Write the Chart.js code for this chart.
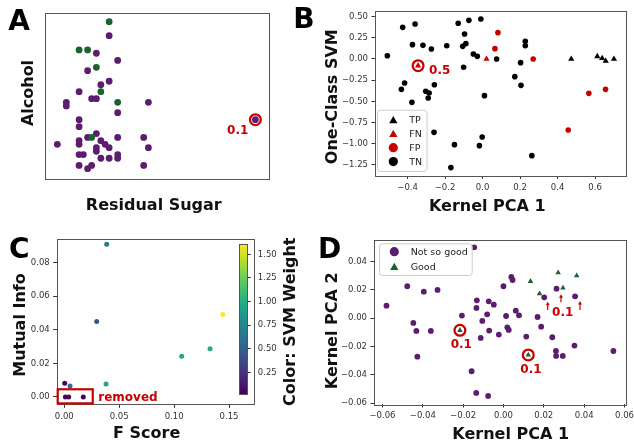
<!DOCTYPE html>
<html>
<head>
<meta charset="utf-8">
<script src="https://cdn.jsdelivr.net/npm/chart.js@4"></script>
<style>
  body { margin: 0; background: #fff; }
  canvas { position: absolute; left: 0; top: 0; }
</style>
</head>
<body>
<canvas id="chartA" width="634" height="446"></canvas>
<canvas id="chartB" width="634" height="446"></canvas>
<canvas id="chartC" width="634" height="446"></canvas>
<canvas id="chartCbar" width="634" height="446"></canvas>
<canvas id="chartD" width="634" height="446"></canvas>
<script>
const W = 634, H = 446;
const FONT = "DejaVu Sans";
const RED = "#c80000";
const PURPLE = "#5c1d6f";
const GREEN = "#1e6130";

// ---- panel A: wine samples (no tick values shown) ----
const sugarGood = [28.6, 15.2, 19.0, 22.9, 24.9, 32.4, 20.8];
const alcoholGood = [94.6, 77.5, 77.5, 67.0, 52.3, 45.9, 24.7];
const sugarPoor = [28.6, 22.9, 32.4, 19.0, 24.9, 28.6, 15.2, 20.8, 22.9, 9.5, 9.5, 46.1, 32.4, 15.2, 15.2, 93.8, 22.9, 19.0, 32.4, 44.0,
  5.5, 15.2, 15.2, 24.9, 26.8, 28.6, 22.9, 22.9, 46.1, 15.2, 17.1, 24.9, 28.6, 32.4, 32.4, 15.2, 20.8, 19.0, 44.0];
const alcoholPoor = [86.1, 75.5, 71.2, 65.0, 56.5, 58.6, 52.3, 48.1, 48.1, 45.9, 43.7, 45.9, 39.6, 35.4, 31.2, 35.4, 27.0, 24.7, 24.7, 24.7,
  20.5, 22.7, 20.5, 22.7, 20.5, 18.5, 18.5, 16.3, 18.5, 14.3, 14.3, 12.1, 12.1, 14.3, 12.1, 7.8, 7.8, 5.8, 7.8];
const flaggedA = [15];          // index into the poor arrays
const flaggedALabel = "0.1";

// ---- panel B: kernel PCA vs one-class SVM score ----
const tnX = [-0.508, -0.426, -0.360, -0.374, -0.318, -0.273, -0.191, -0.130, -0.073, -0.009, -0.096, -0.089, -0.106, -0.049, -0.028, -0.101, 0.075, 0.228,
  0.228, 0.203, 0.172, 0.205, 0.010, -0.416, -0.433, -0.303, -0.285, -0.290, -0.257, -0.377, -0.259, -0.002, -0.150, -0.017, -0.169, 0.263];
const tnY = [0.039, 0.373, 0.413, 0.169, 0.161, 0.118, 0.157, 0.421, 0.456, 0.472, 0.295, 0.181, 0.149, 0.059, 0.031, -0.098, 0.0, 0.208,
  0.157, -0.043, -0.208, -0.311, -0.432, -0.283, -0.358, -0.381, -0.401, -0.460, -0.303, -0.511, -0.865, -0.920, -1.010, -1.022, -1.281, -1.140];
const fpX = [0.082, 0.066, 0.270, 0.567, 0.656, 0.457];
const fpY = [0.311, 0.122, 0.0, -0.405, -0.358, -0.837];
const tpX = [0.473, 0.612, 0.638, 0.657, 0.701];
const tpY = [0.0, 0.031, 0.008, -0.024, 0.0];
const fnX = [0.021, -0.344];
const fnY = [0.0, -0.079];
const flaggedB = [1];           // index into the FN arrays
const flaggedBLabel = "0.5";
const legendB = ["TP", "FN", "FP", "TN"];
const xTicksB = [-0.4, -0.2, 0.0, 0.2, 0.4, 0.6];
const yTicksB = [0.5, 0.25, 0.0, -0.25, -0.5, -0.75, -1.0, -1.25];

// ---- panel C: feature scores ----
const fScore = [0.0386, 0.0295, 0.1443, 0.1327, 0.1069, 0.0380, 0.0004, 0.0052, 0.0010, 0.0040, 0.0173];
const mutualInfo = [0.0909, 0.0449, 0.0492, 0.0288, 0.0242, 0.0077, 0.0082, 0.0066, 0.0, 0.0, 0.0];
const svmWeight = [0.66, 0.43, 1.60, 0.98, 0.95, 0.93, 0.05, 0.60, 0.04, 0.04, 0.04];
const removedLabel = "removed";
const xTicksC = [0.0, 0.05, 0.10, 0.15];
const yTicksC = [0.0, 0.02, 0.04, 0.06, 0.08];
const cbarTicks = [0.25, 0.5, 0.75, 1.0, 1.25, 1.5];

// ---- panel D: kernel PCA projection ----
const poorX = [-0.058, -0.0477, -0.0395, -0.0327, -0.0447, -0.0432, -0.036, -0.0427, -0.0206, -0.0145, -0.0132, -0.0134, -0.0073, -0.0048,
  -0.0081, -0.0105, -0.0071, -0.0113, -0.0023, 0.0, 0.0039, 0.0045, 0.0013, 0.0019, 0.0026, 0.0061, 0.0077, -0.0158, -0.0135, -0.0076,
  0.0113, 0.0169, 0.0187, 0.0202, 0.0242, 0.0263, 0.026, 0.0261, 0.0294, 0.0355, 0.0352, 0.0545];
const poorY = [0.0089, 0.0226, 0.0188, 0.020, -0.0033, -0.0089, -0.0089, -0.0271, 0.0019, 0.0501, 0.0127, 0.0073, 0.012, 0.0096,
  0.0028, -0.0019, -0.0087, -0.0139, -0.0115, 0.0226, 0.0292, 0.027, 0.0016, -0.0064, -0.0082, 0.0054, 0.0021, -0.0374, -0.0527, -0.0548,
  -0.0129, 0.0009, -0.0059, 0.0148, -0.0134, 0.0209, -0.0231, -0.0266, -0.0266, 0.0155, -0.0193, -0.0231];
const goodX = [-0.0216, 0.0123, 0.0134, 0.0179, 0.0271, 0.0295, 0.0363];
const goodY = [-0.0085, -0.0259, 0.0261, 0.0174, 0.0322, 0.0214, 0.0301];
const flaggedD = [0, 1];        // index into the good arrays
const legendD = ["Not so good", "Good"];
const xTicksD = [-0.06, -0.04, -0.02, 0.0, 0.02, 0.04, 0.06];
const yTicksD = [-0.06, -0.04, -0.02, 0.0, 0.02, 0.04];

// viridis colormap stops
const VIRIDIS = ["#440154", "#482475", "#414487", "#355f8d", "#2a788e", "#21918c", "#22a884", "#44bf70", "#7ad151", "#bddf26", "#fde725"];
function hex(c) { return [1, 3, 5].map(i => parseInt(c.slice(i, i + 2), 16)); }
function viridis(t) {
  t = Math.max(0, Math.min(1, t)) * 10;
  const i = Math.min(9, Math.floor(t)), f = t - i;
  const a = hex(VIRIDIS[i]), b = hex(VIRIDIS[i + 1]);
  return "rgb(" + a.map((v, k) => Math.round(v + (b[k] - v) * f)).join(",") + ")";
}
const CB_MIN = 0.017, CB_MAX = 1.606;

function pts(xs, ys) { return xs.map((x, i) => ({ x: x, y: ys[i] })); }
function pick(xs, ys, idx) { return idx.map(i => ({ x: xs[i], y: ys[i] })); }
function fmt(d) { return v => v.toFixed(d).replace("-", "\u2212"); }

function axis(range, ticks, f, afterFit, pad) {
  const a = {
    type: "linear", min: range[0], max: range[1],
    afterFit: afterFit,
    border: { display: false },
    grid: { display: ticks.length > 0, drawOnChartArea: false, drawTicks: true, tickLength: 3.5, color: "#333", lineWidth: 1 },
    ticks: { display: ticks.length > 0, font: { family: FONT, size: 8.5 }, color: "#333", padding: pad || 3.5, maxRotation: 0, autoSkip: false, callback: v => f(v) }
  };
  if (ticks.length) a.afterBuildTicks = s => { s.ticks = ticks.map(v => ({ value: v })); };
  return a;
}

function text(ctx, s, x, y, opt) {
  ctx.save();
  ctx.translate(x, y);
  if (opt.rot) ctx.rotate(-Math.PI / 2);
  ctx.font = (opt.bold === false ? "" : "bold ") + opt.size + "px \"" + FONT + "\"";
  ctx.fillStyle = opt.color || "#111";
  ctx.textAlign = opt.align || "center";
  ctx.textBaseline = "alphabetic";
  ctx.fillText(s, 0, 0);
  ctx.restore();
}

function frame(c) {
  const a = c.chartArea, ctx = c.ctx;
  ctx.save();
  ctx.strokeStyle = "#555";
  ctx.lineWidth = 1;
  ctx.strokeRect(Math.round(a.left) + 0.5, Math.round(a.top) + 0.5, Math.round(a.right - a.left), Math.round(a.bottom - a.top));
  ctx.restore();
}

function marker(ctx, style, x, y, r, color) {
  ctx.save();
  ctx.fillStyle = color;
  ctx.beginPath();
  if (style === "triangle") {
    ctx.moveTo(x, y - r);
    ctx.lineTo(x + r * Math.sin(2 * Math.PI / 3), y - r * Math.cos(2 * Math.PI / 3));
    ctx.lineTo(x + r * Math.sin(4 * Math.PI / 3), y - r * Math.cos(4 * Math.PI / 3));
    ctx.closePath();
  } else {
    ctx.arc(x, y, r, 0, Math.PI * 2);
  }
  ctx.fill();
  ctx.restore();
}

function legendBox(ctx, x0, y0, x1, y1) {
  ctx.save();
  ctx.beginPath();
  if (ctx.roundRect) ctx.roundRect(x0 + 0.5, y0 + 0.5, x1 - x0, y1 - y0, 3);
  else ctx.rect(x0 + 0.5, y0 + 0.5, x1 - x0, y1 - y0);
  ctx.fillStyle = "rgba(255,255,255,0.8)";
  ctx.fill();
  ctx.strokeStyle = "#ccc";
  ctx.lineWidth = 1;
  ctx.stroke();
  ctx.restore();
}

function upArrow(ctx, x, yTop, yBot) {
  ctx.save();
  ctx.strokeStyle = RED; ctx.fillStyle = RED; ctx.lineWidth = 1.2;
  ctx.beginPath(); ctx.moveTo(x, yBot); ctx.lineTo(x, yTop + 2); ctx.stroke();
  ctx.beginPath(); ctx.moveTo(x, yTop); ctx.lineTo(x - 2, yTop + 3.5); ctx.lineTo(x + 2, yTop + 3.5); ctx.closePath(); ctx.fill();
  ctx.restore();
}

function ring(data) {
  return { data: data, pointRadius: 5.4, pointBackgroundColor: "rgba(0,0,0,0)", pointBorderColor: RED, pointBorderWidth: 2.3, pointHoverRadius: 5.4 };
}
function dots(data, color, r, style) {
  return { data: data, pointRadius: r, pointHoverRadius: r, pointStyle: style || "circle", pointBackgroundColor: color, pointBorderWidth: 0, backgroundColor: color };
}

// place a scatter chart so that its plot area is exactly box = [left, top, right, bottom]
function panel(id, box, xr, yr, xt, yt, fx, fy, datasets, draw) {
  return new Chart(document.getElementById(id), {
    type: "scatter",
    data: { datasets: datasets },
    options: {
      responsive: false, animation: false, devicePixelRatio: 1, events: [],
      layout: { padding: { left: 0, top: box[1], right: W - box[2], bottom: 0 } },
      plugins: { legend: { display: false }, tooltip: { enabled: false } },
      scales: {
        x: axis(xr, xt, fx, s => { s.height = H - box[3]; s.paddingLeft = 0; s.paddingRight = 0; }),
        y: axis(yr, yt, fy, s => { s.width = box[0]; s.paddingTop = 0; s.paddingBottom = 0; })
      }
    },
    plugins: [{ id: "extras", afterDraw: c => { frame(c); if (draw) draw(c); } }]
  });
}

// ---------- A ----------
panel("chartA", [45, 12.7, 269.3, 178.3], [0, 100], [0, 100], [], [], fmt(1), fmt(1), [
  dots(pts(sugarGood, alcoholGood), GREEN, 3.4),
  dots(pts(sugarPoor, alcoholPoor), PURPLE, 3.4),
  ring(pick(sugarPoor, alcoholPoor, flaggedA))
], c => {
  const ctx = c.ctx;
  text(ctx, "A", 19.2, 30, { size: 28, color: "#000" });
  text(ctx, "Residual Sugar", 153.8, 210, { size: 16 });
  text(ctx, "Alcohol", 33.3, 93, { size: 16, rot: true });
  text(ctx, flaggedALabel, 237.7, 134.3, { size: 12, color: RED });
});

// ---------- B ----------
panel("chartB", [375, 10.5, 632, 175.5], [-0.5738, 0.7668], [-1.374, 0.572], xTicksB, yTicksB, fmt(1), fmt(2), [
  dots(pts(tnX, tnY), "#000", 2.8),
  dots(pts(fpX, fpY), RED, 2.8),
  dots(pts(tpX, tpY), "#000", 3.6, "triangle"),
  dots(pts(fnX, fnY), RED, 3.6, "triangle"),
  ring(pick(fnX, fnY, flaggedB))
], c => {
  const ctx = c.ctx;
  text(ctx, "B", 304, 28.3, { size: 28, color: "#000" });
  text(ctx, "Kernel PCA 1", 487.3, 211, { size: 16 });
  text(ctx, "One-Class SVM", 336.5, 96.7, { size: 16, rot: true });
  text(ctx, flaggedBLabel, 439.7, 74, { size: 12, color: RED });
  legendBox(ctx, 377, 109.7, 426.5, 171);
  const styles = [["triangle", "#000", 4.8], ["triangle", RED, 4.8], ["circle", RED, 4.6], ["circle", "#000", 4.6]];
  const rows = [120, 133.8, 147.7, 161.6];
  legendB.forEach((s, i) => {
    marker(ctx, styles[i][0], 393.3, rows[i] + (styles[i][0] === "triangle" ? 0.8 : 0), styles[i][2], styles[i][1]);
    text(ctx, s, 409.3, rows[i] + 3.4, { size: 9.5, bold: false, color: "#222", align: "left" });
  });
});

// ---------- C ----------
const cColors = svmWeight.map(w => viridis((w - CB_MIN) / (CB_MAX - CB_MIN)));
panel("chartC", [56.7, 239, 253.3, 404.3], [-0.00692, 0.1721], [-0.00435, 0.0941], xTicksC, yTicksC, fmt(2), fmt(2), [
  { data: pts(fScore, mutualInfo), pointRadius: 2.5, pointHoverRadius: 2.5, pointBorderWidth: 0, pointBackgroundColor: cColors }
], c => {
  const ctx = c.ctx, sx = c.scales.x, sy = c.scales.y;
  text(ctx, "C", 19.2, 258.3, { size: 28, color: "#000" });
  text(ctx, "F Score", 146.7, 438.3, { size: 16 });
  text(ctx, "Mutual Info", 25, 325, { size: 16, rot: true });
  text(ctx, "Color: SVM Weight", 294.5, 321.7, { size: 16, rot: true });
  // box around the removed features (those with zero mutual info)
  const rx = fScore.filter((v, i) => mutualInfo[i] === 0);
  const x0 = sx.getPixelForValue(Math.min(...rx) - 0.007), x1 = sx.getPixelForValue(Math.max(...rx) + 0.0086);
  const y0 = sy.getPixelForValue(0.0046), y1 = sy.getPixelForValue(-0.0038);
  ctx.save(); ctx.strokeStyle = RED; ctx.lineWidth = 2.2; ctx.strokeRect(x0, y0, x1 - x0, y1 - y0); ctx.restore();
  text(ctx, removedLabel, 98.3, 400.5, { size: 12, color: RED, align: "left" });
});

// colour bar: its own chart so the ticks come from a real scale
new Chart(document.getElementById("chartCbar"), {
  type: "scatter",
  data: { datasets: [] },
  options: {
    responsive: false, animation: false, devicePixelRatio: 1, events: [],
    layout: { padding: { left: 239.3, top: 244.3, right: 0, bottom: H - 394.3 } },
    plugins: { legend: { display: false }, tooltip: { enabled: false } },
    scales: {
      x: { display: false, min: 0, max: 1 },
      y: Object.assign(axis([CB_MIN, CB_MAX], cbarTicks, fmt(2), s => { s.width = W - 247.3; s.paddingTop = 0; s.paddingBottom = 0; }, 7), { position: "right" })
    }
  },
  plugins: [{
    id: "cbar",
    beforeDraw: c => {
      const a = c.chartArea, ctx = c.ctx;
      const g = ctx.createLinearGradient(0, a.bottom, 0, a.top);
      VIRIDIS.forEach((col, i) => g.addColorStop(i / 10, col));
      ctx.save(); ctx.fillStyle = g; ctx.fillRect(a.left, a.top, a.right - a.left, a.bottom - a.top); ctx.restore();
    },
    afterDraw: c => frame(c)
  }]
});

// ---------- D ----------
panel("chartD", [374, 239.5, 632.5, 404], [-0.0642, 0.0609], [-0.0605, 0.0556], xTicksD, yTicksD, fmt(2), fmt(2), [
  dots(pts(poorX, poorY), PURPLE, 2.9),
  dots(pts(goodX, goodY), GREEN, 3.2, "triangle"),
  ring(pick(goodX, goodY, flaggedD))
], c => {
  const ctx = c.ctx;
  text(ctx, "D", 329.7, 258.3, { size: 28, color: "#000" });
  text(ctx, "Kernel PCA 1", 510.7, 439, { size: 16 });
  text(ctx, "Kernel PCA 2", 337.3, 330.8, { size: 16, rot: true });
  text(ctx, "0.1", 461.3, 348.3, { size: 12, color: RED });
  text(ctx, "0.1", 531, 373.3, { size: 12, color: RED });
  text(ctx, "0.1", 562.7, 315.7, { size: 12, color: RED });
  upArrow(ctx, 547.7, 301.7, 310);
  upArrow(ctx, 561, 294.3, 302.3);
  upArrow(ctx, 580, 301, 310);
  legendBox(ctx, 379, 243.3, 471.7, 275);
  marker(ctx, "circle", 394.3, 251.7, 4.6, PURPLE);
  marker(ctx, "triangle", 394.3, 267.5, 4.8, GREEN);
  text(ctx, legendD[0], 410.7, 255.1, { size: 9.5, bold: false, color: "#222", align: "left" });
  text(ctx, legendD[1], 410.7, 270.1, { size: 9.5, bold: false, color: "#222", align: "left" });
});
</script>
</body>
</html>
